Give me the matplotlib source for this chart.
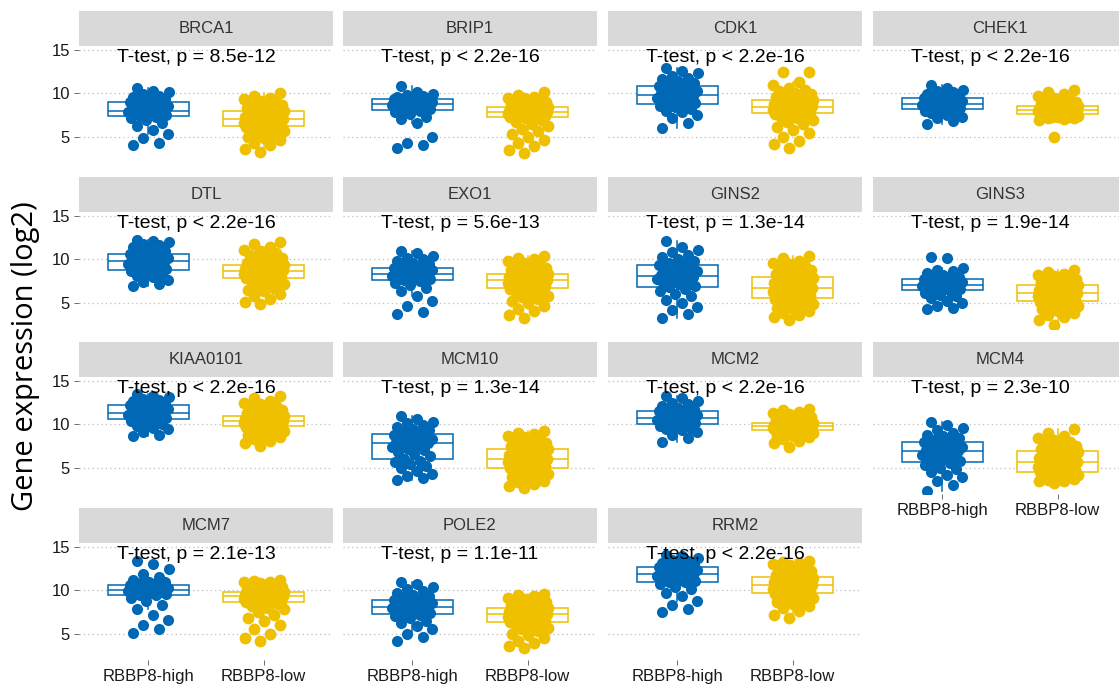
import numpy as np
import matplotlib.pyplot as plt
from matplotlib.patches import Rectangle

plt.rcParams['font.family'] = ['Liberation Sans', 'DejaVu Sans']

groups = ['RBBP8-high', 'RBBP8-low']
genes = ['BRCA1', 'BRIP1', 'CDK1', 'CHEK1', 'DTL', 'EXO1', 'GINS2', 'GINS3',
         'KIAA0101', 'MCM10', 'MCM2', 'MCM4', 'MCM7', 'POLE2', 'RRM2']
p_labels = ['p = 8.5e-12', 'p < 2.2e-16', 'p < 2.2e-16', 'p < 2.2e-16',
            'p < 2.2e-16', 'p = 5.6e-13', 'p = 1.3e-14', 'p = 1.9e-14',
            'p < 2.2e-16', 'p = 1.3e-14', 'p < 2.2e-16', 'p = 2.3e-10',
            'p = 2.1e-13', 'p = 1.1e-11', 'p < 2.2e-16']

# log2 expression per sample, RBBP8-high / RBBP8-low
brca1_high = [4.0, 4.3, 4.8, 5.3, 5.8, 6.2, 6.6, 6.9, 7.1, 7.3,
              7.4, 7.5, 7.5, 7.6, 7.7, 7.7, 7.8, 7.8, 7.9, 7.9,
              8.0, 8.1, 8.3, 8.4, 8.5, 8.6, 8.7, 8.8, 8.9, 9.0,
              9.1, 9.2, 9.3, 9.4, 9.6, 9.7, 9.9, 10.1, 10.3, 10.6]
brca1_low = [3.2, 3.6, 4.0, 4.3, 4.6, 4.8, 5.0, 5.2, 5.4, 5.6, 5.7, 5.8, 5.9, 6.0, 6.1,
             6.2, 6.3, 6.3, 6.4, 6.5, 6.5, 6.6, 6.6, 6.7, 6.7, 6.8, 6.8, 6.9, 6.9, 7.0,
             7.0, 7.1, 7.1, 7.2, 7.3, 7.3, 7.4, 7.5, 7.5, 7.6, 7.7, 7.7, 7.8, 7.9, 7.9,
             8.0, 8.1, 8.2, 8.3, 8.4, 8.5, 8.6, 8.7, 8.8, 9.0, 9.1, 9.3, 9.5, 9.7, 10.0]
brip1_high = [3.7, 4.0, 4.3, 4.9, 6.6, 7.0, 7.3, 7.6, 7.8, 8.0,
              8.1, 8.2, 8.3, 8.4, 8.4, 8.5, 8.6, 8.6, 8.7, 8.7,
              8.75, 8.8, 8.9, 8.9, 9.0, 9.1, 9.1, 9.2, 9.3, 9.3,
              9.35, 9.4, 9.5, 9.6, 9.6, 9.7, 9.8, 9.9, 10.1, 10.8]
brip1_low = [3.1, 3.5, 3.9, 4.3, 4.6, 5.0, 5.3, 5.6, 5.9, 6.2, 6.4, 6.7, 6.9, 7.1, 7.2,
             7.3, 7.4, 7.4, 7.5, 7.5, 7.5, 7.6, 7.6, 7.6, 7.7, 7.7, 7.7, 7.8, 7.8, 7.8,
             7.8, 7.9, 7.9, 8.0, 8.0, 8.0, 8.1, 8.1, 8.2, 8.2, 8.2, 8.3, 8.3, 8.4, 8.4,
             8.4, 8.5, 8.6, 8.7, 8.8, 8.9, 9.0, 9.1, 9.2, 9.3, 9.4, 9.5, 9.6, 9.8, 10.1]
cdk1_high = [6.0, 6.6, 7.1, 7.5, 7.8, 8.0, 8.2, 8.4, 8.5, 8.7,
             8.8, 8.9, 9.0, 9.1, 9.2, 9.3, 9.4, 9.5, 9.6, 9.7,
             9.9, 10.0, 10.1, 10.2, 10.3, 10.4, 10.5, 10.6, 10.7, 10.8,
             10.9, 11.0, 11.2, 11.4, 11.6, 11.8, 12.0, 12.3, 12.6, 12.9]
cdk1_low = [3.7, 4.1, 4.5, 5.0, 5.4, 5.8, 6.1, 6.4, 6.7, 6.9, 7.1, 7.3, 7.4, 7.5, 7.6,
            7.7, 7.8, 7.8, 7.9, 8.0, 8.0, 8.1, 8.1, 8.2, 8.2, 8.3, 8.3, 8.4, 8.4, 8.4,
            8.5, 8.5, 8.6, 8.6, 8.7, 8.8, 8.8, 8.9, 8.9, 9.0, 9.0, 9.1, 9.1, 9.2, 9.2,
            9.3, 9.4, 9.5, 9.6, 9.7, 9.8, 9.9, 10.0, 10.2, 10.4, 10.6, 10.9, 11.3, 12.4, 12.5]
chek1_high = [6.5, 6.8, 7.1, 7.3, 7.5, 7.7, 7.8, 7.9, 8.0, 8.1,
              8.2, 8.3, 8.35, 8.4, 8.5, 8.5, 8.6, 8.65, 8.7, 8.75,
              8.8, 8.85, 8.9, 9.0, 9.05, 9.1, 9.2, 9.25, 9.3, 9.4,
              9.5, 9.6, 9.7, 9.8, 9.9, 10.1, 10.2, 10.4, 10.6, 10.9]
chek1_low = [5.0, 6.9, 7.0, 7.1, 7.1, 7.2, 7.2, 7.3, 7.3, 7.4, 7.4, 7.5, 7.5, 7.5, 7.6,
             7.6, 7.7, 7.7, 7.7, 7.8, 7.8, 7.8, 7.9, 7.9, 7.9, 8.0, 8.0, 8.0, 8.0, 8.05,
             8.1, 8.1, 8.1, 8.2, 8.2, 8.2, 8.3, 8.3, 8.3, 8.3, 8.4, 8.4, 8.4, 8.5, 8.5,
             8.5, 8.6, 8.6, 8.7, 8.8, 8.9, 9.0, 9.1, 9.2, 9.3, 9.5, 9.7, 9.9, 10.1, 10.4]
dtl_high = [6.9, 7.1, 7.4, 7.6, 7.9, 8.1, 8.3, 8.4, 8.6, 8.7,
            8.8, 8.9, 9.0, 9.1, 9.2, 9.3, 9.4, 9.5, 9.6, 9.7,
            9.8, 9.9, 10.0, 10.0, 10.1, 10.2, 10.3, 10.4, 10.5, 10.6,
            10.7, 10.8, 11.0, 11.2, 11.4, 11.6, 11.8, 12.0, 12.1, 12.2]
dtl_low = [4.8, 5.1, 5.4, 5.7, 6.0, 6.3, 6.5, 6.7, 6.9, 7.1, 7.3, 7.4, 7.6, 7.7, 7.8,
           7.9, 8.0, 8.0, 8.1, 8.2, 8.2, 8.3, 8.3, 8.4, 8.4, 8.5, 8.5, 8.6, 8.6, 8.6,
           8.7, 8.7, 8.8, 8.8, 8.9, 8.9, 9.0, 9.0, 9.1, 9.1, 9.1, 9.2, 9.2, 9.3, 9.3,
           9.3, 9.4, 9.5, 9.6, 9.8, 9.9, 10.1, 10.3, 10.5, 10.7, 10.9, 11.1, 11.4, 11.7, 12.0]
exo1_high = [3.7, 3.9, 4.6, 5.2, 5.8, 6.3, 6.7, 7.0, 7.3, 7.5,
             7.6, 7.7, 7.8, 7.9, 7.9, 8.0, 8.1, 8.1, 8.2, 8.2,
             8.3, 8.4, 8.5, 8.6, 8.7, 8.8, 8.8, 8.9, 9.0, 9.0,
             9.1, 9.2, 9.4, 9.6, 9.8, 10.0, 10.2, 10.4, 10.7, 11.0]
exo1_low = [3.2, 3.6, 4.0, 4.3, 4.6, 4.9, 5.2, 5.4, 5.6, 5.8, 6.0, 6.2, 6.3, 6.5, 6.6,
            6.7, 6.8, 6.9, 6.9, 7.0, 7.1, 7.1, 7.2, 7.3, 7.3, 7.4, 7.4, 7.5, 7.5, 7.6,
            7.6, 7.7, 7.7, 7.8, 7.8, 7.9, 7.9, 8.0, 8.0, 8.1, 8.1, 8.2, 8.2, 8.3, 8.3,
            8.4, 8.5, 8.6, 8.7, 8.8, 8.9, 9.0, 9.1, 9.3, 9.4, 9.6, 9.8, 10.0, 10.2, 10.4]
gins2_high = [3.2, 3.7, 4.1, 4.5, 4.9, 5.3, 5.7, 6.0, 6.3, 6.6,
              6.8, 6.9, 7.1, 7.2, 7.4, 7.5, 7.7, 7.8, 7.9, 8.0,
              8.1, 8.2, 8.4, 8.5, 8.6, 8.8, 8.9, 9.0, 9.2, 9.3,
              9.4, 9.6, 9.8, 10.0, 10.3, 10.5, 10.8, 11.1, 11.4, 12.1]
gins2_low = [3.0, 3.3, 3.6, 3.8, 4.0, 4.2, 4.4, 4.6, 4.7, 4.8, 4.9, 5.0, 5.1, 5.2, 5.4,
             5.5, 5.6, 5.7, 5.8, 5.9, 6.0, 6.1, 6.2, 6.2, 6.3, 6.4, 6.5, 6.5, 6.6, 6.7,
             6.7, 6.8, 6.9, 7.0, 7.1, 7.2, 7.3, 7.3, 7.4, 7.5, 7.6, 7.7, 7.8, 7.8, 7.9,
             8.0, 8.1, 8.2, 8.3, 8.4, 8.6, 8.7, 8.9, 9.0, 9.2, 9.4, 9.6, 9.8, 10.1, 10.4]
gins3_high = [4.2, 4.4, 4.6, 4.9, 5.2, 5.5, 5.7, 5.9, 6.1, 6.3,
              6.5, 6.6, 6.7, 6.7, 6.8, 6.9, 6.9, 7.0, 7.0, 7.05,
              7.1, 7.2, 7.2, 7.3, 7.4, 7.4, 7.5, 7.6, 7.7, 7.7,
              7.8, 7.9, 8.0, 8.2, 8.4, 8.6, 8.8, 9.0, 10.2, 10.3]
gins3_low = [2.4, 3.0, 3.3, 3.6, 3.8, 4.0, 4.2, 4.3, 4.5, 4.6, 4.7, 4.8, 4.9, 5.0, 5.05,
             5.15, 5.2, 5.3, 5.4, 5.5, 5.5, 5.6, 5.7, 5.8, 5.8, 5.9, 6.0, 6.0, 6.05, 6.1,
             6.1, 6.2, 6.3, 6.3, 6.4, 6.5, 6.6, 6.6, 6.7, 6.8, 6.8, 6.9, 7.0, 7.0, 7.05,
             7.1, 7.2, 7.3, 7.4, 7.5, 7.6, 7.7, 7.8, 7.9, 8.0, 8.1, 8.2, 8.3, 8.5, 8.7]
kiaa0101_high = [8.6, 8.8, 9.1, 9.4, 9.6, 9.8, 10.0, 10.2, 10.4, 10.5,
                 10.6, 10.7, 10.8, 10.9, 11.0, 11.1, 11.1, 11.2, 11.3, 11.3,
                 11.4, 11.5, 11.6, 11.7, 11.8, 11.9, 12.0, 12.0, 12.1, 12.2,
                 12.3, 12.4, 12.5, 12.6, 12.7, 12.8, 12.9, 13.1, 13.3, 13.5]
kiaa0101_low = [7.5, 7.8, 8.1, 8.3, 8.5, 8.7, 8.8, 9.0, 9.1, 9.2, 9.3, 9.4, 9.5, 9.6, 9.7,
                9.8, 9.8, 9.9, 9.9, 10.0, 10.0, 10.1, 10.1, 10.2, 10.2, 10.2, 10.3, 10.3, 10.3, 10.35,
                10.4, 10.4, 10.5, 10.5, 10.6, 10.6, 10.7, 10.7, 10.8, 10.8, 10.9, 10.9, 10.9, 11.0, 11.0,
                11.0, 11.1, 11.2, 11.3, 11.4, 11.5, 11.6, 11.8, 11.9, 12.1, 12.3, 12.5, 12.7, 13.0, 13.3]
mcm10_high = [3.6, 3.8, 4.0, 4.3, 4.6, 4.9, 5.2, 5.4, 5.6, 5.8,
              6.0, 6.3, 6.6, 6.8, 7.0, 7.2, 7.4, 7.5, 7.7, 7.8,
              7.9, 8.0, 8.1, 8.2, 8.3, 8.4, 8.5, 8.6, 8.7, 8.8,
              8.9, 9.1, 9.3, 9.5, 9.7, 9.9, 10.1, 10.3, 10.6, 11.0]
mcm10_low = [2.6, 2.9, 3.1, 3.3, 3.5, 3.7, 3.9, 4.0, 4.2, 4.3, 4.5, 4.6, 4.7, 4.8, 4.9,
             5.0, 5.1, 5.2, 5.3, 5.3, 5.4, 5.5, 5.6, 5.6, 5.7, 5.8, 5.8, 5.9, 5.9, 6.0,
             6.0, 6.1, 6.2, 6.3, 6.3, 6.4, 6.5, 6.6, 6.7, 6.8, 6.8, 6.9, 7.0, 7.1, 7.1,
             7.2, 7.3, 7.4, 7.5, 7.6, 7.7, 7.8, 7.9, 8.1, 8.3, 8.5, 8.7, 8.9, 9.0, 9.2]
mcm2_high = [7.9, 8.4, 8.8, 9.1, 9.3, 9.5, 9.6, 9.7, 9.8, 9.9,
             10.0, 10.1, 10.2, 10.3, 10.4, 10.4, 10.5, 10.6, 10.6, 10.7,
             10.7, 10.8, 10.9, 11.0, 11.1, 11.2, 11.3, 11.4, 11.5, 11.5,
             11.6, 11.7, 11.8, 11.9, 12.1, 12.3, 12.5, 12.7, 13.0, 13.3]
mcm2_low = [7.4, 7.8, 8.1, 8.3, 8.5, 8.6, 8.7, 8.8, 8.9, 9.0, 9.1, 9.1, 9.2, 9.2, 9.3,
            9.35, 9.4, 9.4, 9.5, 9.5, 9.5, 9.6, 9.6, 9.6, 9.7, 9.7, 9.7, 9.7, 9.75, 9.75,
            9.75, 9.8, 9.8, 9.9, 9.9, 9.9, 10.0, 10.0, 10.0, 10.1, 10.1, 10.1, 10.2, 10.2, 10.2,
            10.2, 10.3, 10.4, 10.5, 10.6, 10.7, 10.8, 10.9, 11.0, 11.1, 11.2, 11.3, 11.4, 11.6, 11.8]
mcm4_high = [2.3, 3.0, 3.5, 3.9, 4.2, 4.5, 4.8, 5.0, 5.3, 5.5,
             5.7, 5.8, 6.0, 6.1, 6.3, 6.4, 6.5, 6.6, 6.8, 6.9,
             6.9, 7.0, 7.2, 7.3, 7.4, 7.5, 7.6, 7.7, 7.8, 8.0,
             8.0, 8.2, 8.4, 8.6, 8.8, 9.0, 9.3, 9.6, 9.9, 10.3]
mcm4_low = [3.2, 3.4, 3.5, 3.6, 3.7, 3.8, 3.9, 4.0, 4.0, 4.1, 4.2, 4.3, 4.3, 4.4, 4.5,
            4.5, 4.6, 4.7, 4.8, 4.9, 5.0, 5.0, 5.1, 5.2, 5.3, 5.4, 5.4, 5.5, 5.6, 5.7,
            5.7, 5.8, 5.9, 6.0, 6.0, 6.1, 6.2, 6.3, 6.4, 6.5, 6.6, 6.6, 6.7, 6.8, 6.9,
            6.9, 7.0, 7.1, 7.2, 7.3, 7.4, 7.5, 7.7, 7.8, 8.0, 8.2, 8.4, 8.7, 9.0, 9.4]
mcm7_high = [5.1, 5.5, 6.0, 6.6, 7.2, 7.8, 8.3, 8.8, 9.1, 9.4,
             9.5, 9.6, 9.7, 9.7, 9.8, 9.8, 9.9, 9.9, 10.0, 10.0,
             10.1, 10.1, 10.2, 10.2, 10.3, 10.3, 10.4, 10.5, 10.5, 10.6,
             10.7, 10.8, 10.9, 11.0, 11.2, 11.5, 11.9, 12.4, 13.0, 13.4]
mcm7_low = [4.1, 4.5, 5.0, 5.5, 6.0, 6.4, 6.8, 7.2, 7.5, 7.8, 8.0, 8.2, 8.4, 8.5, 8.6,
            8.7, 8.8, 8.8, 8.9, 8.9, 9.0, 9.0, 9.0, 9.1, 9.1, 9.2, 9.2, 9.2, 9.3, 9.3,
            9.3, 9.4, 9.4, 9.4, 9.5, 9.5, 9.5, 9.6, 9.6, 9.6, 9.7, 9.7, 9.7, 9.8, 9.8,
            9.8, 9.9, 10.0, 10.1, 10.2, 10.3, 10.4, 10.5, 10.6, 10.7, 10.8, 10.9, 11.0, 11.1, 11.2]
pole2_high = [4.2, 4.6, 5.0, 5.5, 5.9, 6.2, 6.5, 6.8, 7.0, 7.1,
              7.3, 7.4, 7.5, 7.6, 7.7, 7.8, 7.9, 7.9, 8.0, 8.1,
              8.1, 8.2, 8.3, 8.4, 8.5, 8.6, 8.7, 8.7, 8.8, 8.9,
              8.9, 9.1, 9.3, 9.5, 9.7, 9.9, 10.2, 10.4, 10.7, 11.0]
pole2_low = [3.3, 3.6, 3.9, 4.2, 4.5, 4.8, 5.0, 5.3, 5.5, 5.7, 5.8, 6.0, 6.1, 6.2, 6.3,
             6.4, 6.5, 6.6, 6.6, 6.7, 6.8, 6.8, 6.9, 7.0, 7.0, 7.1, 7.1, 7.2, 7.2, 7.25,
             7.3, 7.3, 7.4, 7.4, 7.5, 7.5, 7.6, 7.6, 7.7, 7.7, 7.8, 7.8, 7.9, 7.9, 7.95,
             8.0, 8.1, 8.2, 8.3, 8.4, 8.5, 8.6, 8.7, 8.8, 8.9, 9.0, 9.1, 9.3, 9.4, 9.6]
rrm2_high = [7.5, 7.8, 8.3, 8.8, 9.3, 9.7, 10.1, 10.4, 10.7, 10.9,
             11.0, 11.1, 11.2, 11.3, 11.4, 11.5, 11.6, 11.7, 11.8, 11.8,
             11.9, 12.0, 12.1, 12.2, 12.3, 12.4, 12.5, 12.6, 12.6, 12.7,
             12.8, 12.9, 13.0, 13.1, 13.2, 13.4, 13.5, 13.7, 13.9, 14.1]
rrm2_low = [6.8, 7.2, 7.6, 7.9, 8.2, 8.4, 8.6, 8.8, 8.9, 9.1, 9.2, 9.3, 9.4, 9.5, 9.6,
            9.7, 9.8, 9.9, 9.9, 10.0, 10.1, 10.1, 10.2, 10.3, 10.3, 10.4, 10.4, 10.5, 10.5, 10.6,
            10.6, 10.7, 10.8, 10.8, 10.9, 11.0, 11.0, 11.1, 11.2, 11.2, 11.3, 11.3, 11.4, 11.4, 11.5,
            11.5, 11.6, 11.7, 11.8, 11.9, 12.0, 12.2, 12.3, 12.5, 12.7, 12.9, 13.0, 13.2, 13.3, 13.4]

expr = [(brca1_high, brca1_low), (brip1_high, brip1_low), (cdk1_high, cdk1_low),
        (chek1_high, chek1_low), (dtl_high, dtl_low), (exo1_high, exo1_low),
        (gins2_high, gins2_low), (gins3_high, gins3_low),
        (kiaa0101_high, kiaa0101_low), (mcm10_high, mcm10_low),
        (mcm2_high, mcm2_low), (mcm4_high, mcm4_low), (mcm7_high, mcm7_low),
        (pole2_high, pole2_low), (rrm2_high, rrm2_low)]

colors = ['#0068B4', '#EFC000']

W, H = 1119, 691
fig = plt.figure(figsize=(W / 100, H / 100), dpi=100)

# facet grid geometry in pixels
col_left = [79, 343, 608, 873]
row_top = [46, 212, 377, 543]
pw, ph, strip_h = 254, 117, 35
bottom_panels = {11, 12, 13, 14}


def jitter(n, shift):
    # evenly spread horizontal offsets so points don't stack
    i = np.arange(n)
    return ((i * 0.6180339887 + shift) % 1.0 - 0.5) * 0.36


for k, gene in enumerate(genes):
    r, c = divmod(k, 4)
    ax = fig.add_axes([col_left[c] / W, 1 - (row_top[r] + ph) / H, pw / W, ph / H])

    bp = ax.boxplot(list(expr[k]), positions=[1, 2], widths=0.7, showfliers=False,
                    showcaps=False, patch_artist=True, zorder=2)
    for j, col in enumerate(colors):
        bp['boxes'][j].set(facecolor='white', edgecolor=col, linewidth=1.1)
        bp['medians'][j].set(color=col, linewidth=1.1)
        for wsk in bp['whiskers'][2 * j:2 * j + 2]:
            wsk.set(color=col, linewidth=1.1)

    for j, col in enumerate(colors):
        vals = np.array(expr[k][j])
        ax.scatter(j + 1 + jitter(len(vals), 0.13 + 0.29 * j), vals, s=64 + 8 * j,
                   color=col, linewidths=0, zorder=3)

    ax.set_xlim(0.4, 2.6)
    ax.set_ylim(1.95, 15.45)
    ax.set_yticks([5, 10, 15])
    ax.set_xticks([1, 2])
    ax.set_xticklabels(groups)
    for s in ax.spines.values():
        s.set_visible(False)
    ax.yaxis.grid(True, linestyle=(0, (1, 2.5)), color='#bdbdbd', linewidth=0.9)
    ax.set_axisbelow(True)
    ax.tick_params(length=3.5, width=0.6, color='#555555', labelsize=12,
                   labelcolor='#1a1a1a', pad=3)
    if c != 0:
        ax.tick_params(axis='y', left=False, labelleft=False)
    if k not in bottom_panels:
        ax.tick_params(axis='x', bottom=False, labelbottom=False)

    # strip header
    sh = strip_h / ph
    ax.add_patch(Rectangle((0, 1), 1, sh, transform=ax.transAxes, facecolor='#d9d9d9',
                           edgecolor='none', clip_on=False))
    ax.text(0.5, 1 + sh / 2, gene, transform=ax.transAxes, ha='center', va='center',
            fontsize=12, color='#333333')

    ax.text(0.15, 13.6, 'T-test, ' + p_labels[k], transform=ax.get_yaxis_transform(),
            ha='left', va='baseline', fontsize=14, color='black', zorder=4)

fig.text(26 / W, 1 - 356 / H, 'Gene expression (log2)', rotation=90, ha='center',
         va='center', fontsize=21, family=['Open Sans', 'DejaVu Sans'])

fig.savefig('out.png', dpi=100)
